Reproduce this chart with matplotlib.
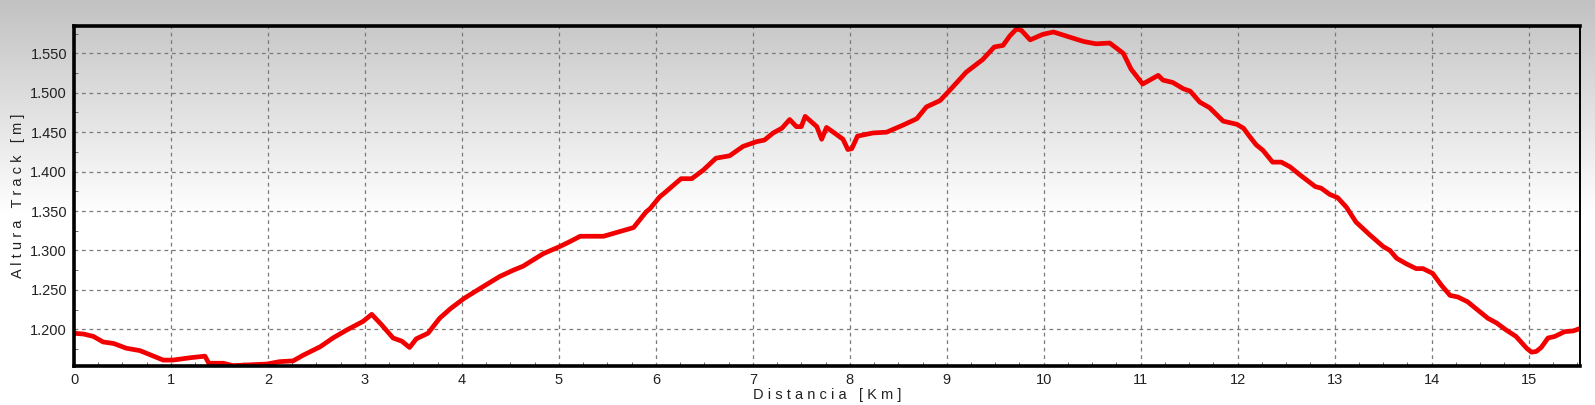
import matplotlib.pyplot as plt
import numpy as np
from matplotlib.ticker import FuncFormatter, MultipleLocator

# distance [km] and altitude [m] read from the profile
dist = [0.0, 0.1, 0.2, 0.3, 0.41, 0.54, 0.68, 0.82, 0.92, 1.02, 1.2, 1.35, 1.39, 1.54,
        1.64, 1.81, 1.99, 2.12, 2.26, 2.36, 2.54, 2.67, 2.81, 2.98, 3.07, 3.17, 3.29,
        3.38, 3.46, 3.53, 3.65, 3.77, 3.88, 4.02, 4.19, 4.39, 4.53, 4.63, 4.84, 5.01,
        5.11, 5.22, 5.46, 5.63, 5.77, 5.9, 5.94, 6.04, 6.08, 6.26, 6.37, 6.49, 6.62,
        6.76, 6.9, 7.04, 7.12, 7.21, 7.3, 7.38, 7.45, 7.5, 7.54, 7.66, 7.71, 7.76,
        7.83, 7.93, 7.98, 8.02, 8.08, 8.24, 8.38, 8.55, 8.69, 8.79, 8.93, 9.03, 9.2,
        9.37, 9.49, 9.58, 9.65, 9.72, 9.77, 9.86, 9.99, 10.1, 10.23, 10.41, 10.54,
        10.68, 10.82, 10.9, 11.02, 11.18, 11.23, 11.33, 11.44, 11.51, 11.61, 11.71,
        11.85, 11.99, 12.06, 12.12, 12.19, 12.26, 12.36, 12.45, 12.54, 12.64, 12.8,
        12.86, 12.95, 13.03, 13.12, 13.22, 13.36, 13.5, 13.57, 13.64, 13.74, 13.84,
        13.91, 14.01, 14.1, 14.19, 14.27, 14.37, 14.5, 14.58, 14.67, 14.77, 14.87,
        14.98, 15.03, 15.08, 15.13, 15.2, 15.27, 15.37, 15.46, 15.53]
alt = [1195, 1194, 1191, 1184, 1182, 1176, 1173, 1166, 1161, 1161, 1164, 1166, 1157, 1157,
       1154, 1155, 1156, 1159, 1160, 1167, 1178, 1189, 1199, 1210, 1219, 1206, 1189,
       1185, 1177, 1188, 1195, 1214, 1226, 1239, 1252, 1267, 1275, 1280, 1296, 1305,
       1311, 1318, 1318, 1324, 1329, 1349, 1353, 1368, 1372, 1391, 1391, 1402, 1417,
       1420, 1432, 1438, 1440, 1449, 1455, 1466, 1457, 1457, 1470, 1457, 1441, 1456,
       1450, 1441, 1428, 1429, 1445, 1449, 1450, 1459, 1467, 1482, 1490, 1503, 1526,
       1542, 1558, 1560, 1572, 1581, 1579, 1567, 1574, 1577, 1572, 1565, 1562,
       1563, 1550, 1530, 1511, 1522, 1516, 1513, 1505, 1502, 1488, 1481,
       1464, 1460, 1455, 1445, 1434, 1427, 1412, 1412, 1406, 1396, 1381,
       1379, 1371, 1367, 1355, 1336, 1320, 1305, 1300, 1290, 1283, 1277,
       1277, 1271, 1256, 1243, 1241, 1235, 1222, 1214, 1208, 1199, 1191,
       1176, 1171, 1172, 1177, 1189, 1191, 1197, 1198, 1201]

fig = plt.figure(figsize=(15.95, 4.05), dpi=100)

# grey-to-white background gradient
bg = fig.add_axes([0, 0, 1, 1], zorder=-10)
grad = np.clip(np.linspace(0, 1, 405) / 0.53, 0, 1)
col = 0.76 + 0.24 * grad
img = np.stack([col, col, col], axis=-1)[:, None, :].repeat(2, axis=1)
bg.imshow(img, aspect="auto", extent=[0, 1, 0, 1], origin="upper")
bg.axis("off")

ax = fig.add_axes([0.0464, 0.0963, 0.9442, 0.8395])
ax.patch.set_alpha(0)
ax.plot(dist, alt, color="#f20000", linewidth=3.4, solid_joinstyle="round")

ax.set_xlim(0, 15.53)
ax.set_ylim(1153.5, 1584.6)
ax.xaxis.set_major_locator(MultipleLocator(1))
ax.xaxis.set_minor_locator(MultipleLocator(0.25))
ax.yaxis.set_major_locator(MultipleLocator(50))
ax.yaxis.set_minor_locator(MultipleLocator(25))
ax.yaxis.set_major_formatter(FuncFormatter(lambda v, p: f"{v / 1000:.3f}"))
ax.grid(True, which="major", color="#7a7a7a", linestyle=(0, (3, 3)), linewidth=0.9)

ax.tick_params(which="major", length=0, labelsize=10.5, colors="#222222", pad=5)
ax.tick_params(which="minor", direction="in", length=3, color="#555555")
for lab in ax.get_xticklabels() + ax.get_yticklabels():
    lab.set_family("Liberation Sans")

for s in ["left", "bottom", "top"]:
    ax.spines[s].set_linewidth(2.6)
ax.spines["right"].set_linewidth(1.4)

ax.set_ylabel("A l t u r a   T r a c k   [ m ]", fontsize=10.5, family="Liberation Sans",
              color="#222222", labelpad=4)
ax.set_xlabel("D i s t a n c i a   [ K m ]", fontsize=10.5, family="Liberation Sans",
              color="#222222", labelpad=1)

plt.savefig("out.png", dpi=100)
